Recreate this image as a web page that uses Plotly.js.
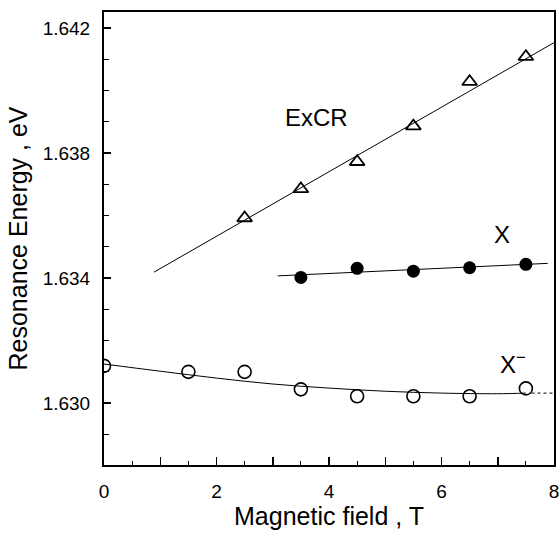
<!DOCTYPE html>
<html>
<head>
<meta charset="utf-8">
<script src="https://cdn.plot.ly/plotly-3.0.1.min.js"></script>
<style>html,body{margin:0;padding:0;background:#fff;}#chart{width:560px;height:535px;}</style>
</head>
<body>
<div id="chart"></div>
<script>
// Data
var excrField = [2.5, 3.5, 4.5, 5.5, 6.5, 7.5];
var excrEnergy = [1.63592, 1.63685, 1.63772, 1.63886, 1.64028, 1.64108];
var excrFitField = [0.89, 8.0];
var excrFitEnergy = [1.63419, 1.64153];

var xField = [3.5, 4.5, 5.5, 6.5, 7.5];
var xEnergy = [1.63402, 1.63431, 1.63422, 1.63433, 1.63444];
var xFitField = [3.09, 7.89];
var xFitEnergy = [1.63407, 1.63447];

var xmField = [0, 1.5, 2.5, 3.5, 4.5, 5.5, 6.5, 7.5];
var xmEnergy = [1.63119, 1.63100, 1.63100, 1.63044, 1.63022, 1.63022, 1.63022, 1.63047];
var xmFitField = [0, 1, 2, 3, 4, 5, 6, 7, 7.5];
var xmFitEnergy = [1.63125, 1.63102, 1.63080, 1.63061, 1.63048, 1.63038, 1.63032, 1.63030, 1.63032];
var xmTailField = [7.6, 8.0];
var xmTailEnergy = [1.63032, 1.63032];

var FONT = 'Liberation Sans, Arial, sans-serif';
var lineStyle = {color: '#000', width: 1};

var traces = [
  {x: excrFitField, y: excrFitEnergy, mode: 'lines', line: lineStyle, hoverinfo: 'skip'},
  {x: xFitField, y: xFitEnergy, mode: 'lines', line: lineStyle, hoverinfo: 'skip'},
  {x: xmFitField, y: xmFitEnergy, mode: 'lines', line: {color: '#000', width: 1, shape: 'spline'}, hoverinfo: 'skip'},
  {x: xmTailField, y: xmTailEnergy, mode: 'lines', line: {color: '#000', width: 1, dash: 'dot'}, hoverinfo: 'skip'},
  {x: excrField, y: excrEnergy, mode: 'markers', name: 'ExCR',
   marker: {symbol: 'triangle-up-open', size: 13, color: '#000', line: {width: 1.8, color: '#000'}}},
  {x: xField, y: xEnergy, mode: 'markers', name: 'X',
   marker: {symbol: 'circle', size: 13, color: '#000', line: {width: 0}}},
  {x: xmField, y: xmEnergy, mode: 'markers', name: 'X-',
   marker: {symbol: 'circle-open', size: 13, color: '#000', line: {width: 1.6, color: '#000'}}},
  // invisible trace carrying the secondary x axis used for the unit ticks
  {x: xmFitField, y: xmFitEnergy, xaxis: 'x2', mode: 'markers', marker: {opacity: 0}, hoverinfo: 'skip'}
];

var layout = {
  width: 560, height: 535,
  margin: {l: 104, r: 6, t: 12, b: 70},
  paper_bgcolor: '#fff', plot_bgcolor: '#fff',
  showlegend: false,
  font: {family: FONT, color: '#000'},
  xaxis: {
    range: [0, 8], tickmode: 'linear', tick0: 0, dtick: 2,
    ticks: 'inside', ticklen: 8, tickwidth: 1.5, tickcolor: '#000',
    minor: {tickmode: 'linear', tick0: 0, dtick: 0.5, ticks: 'inside', ticklen: 4, tickwidth: 1.2, tickcolor: '#000'},
    showline: true, linecolor: '#000', linewidth: 2, mirror: true,
    showgrid: false, zeroline: false,
    tickfont: {size: 19, family: FONT}, ticklabelstandoff: 8,
    title: {text: 'Magnetic field , T', font: {size: 25, family: FONT}, standoff: 6}
  },
  xaxis2: {
    range: [0, 8], overlaying: 'x', anchor: 'y', side: 'bottom',
    tickmode: 'linear', tick0: 0, dtick: 1,
    ticks: 'inside', ticklen: 8, tickwidth: 1.5, tickcolor: '#000',
    showticklabels: false, showline: false, showgrid: false, zeroline: false
  },
  yaxis: {
    range: [1.62802, 1.64251], tickmode: 'linear', tick0: 1.630, dtick: 0.004, tickformat: '.3f',
    ticks: 'inside', ticklen: 7, tickwidth: 1.5, tickcolor: '#000',
    minor: {tickmode: 'linear', tick0: 1.630, dtick: 0.001, ticks: 'inside', ticklen: 5, tickwidth: 1.2, tickcolor: '#000'},
    showline: true, linecolor: '#000', linewidth: 2, mirror: true,
    showgrid: false, zeroline: false,
    tickfont: {size: 19, family: FONT}, ticklabelstandoff: 8,
    title: {text: 'Resonance Energy , eV', font: {size: 25, family: FONT}, standoff: 8}
  },
  annotations: [
    {x: 3.77, y: 1.63912, xref: 'x', yref: 'y', text: 'ExCR', showarrow: false,
     font: {size: 24, family: FONT, color: '#000'}, xanchor: 'center', yanchor: 'middle'},
    {x: 7.07, y: 1.63538, xref: 'x', yref: 'y', text: 'X', showarrow: false,
     font: {size: 24, family: FONT, color: '#000'}, xanchor: 'center', yanchor: 'middle'},
    {x: 7.0, y: 1.63128, xref: 'x', yref: 'y', text: 'X<sup>−</sup>', showarrow: false,
     font: {size: 24, family: FONT, color: '#000'}, xanchor: 'left', yanchor: 'middle'}
  ]
};

Plotly.newPlot('chart', traces, layout, {staticPlot: true, displayModeBar: false});
</script>
</body>
</html>
